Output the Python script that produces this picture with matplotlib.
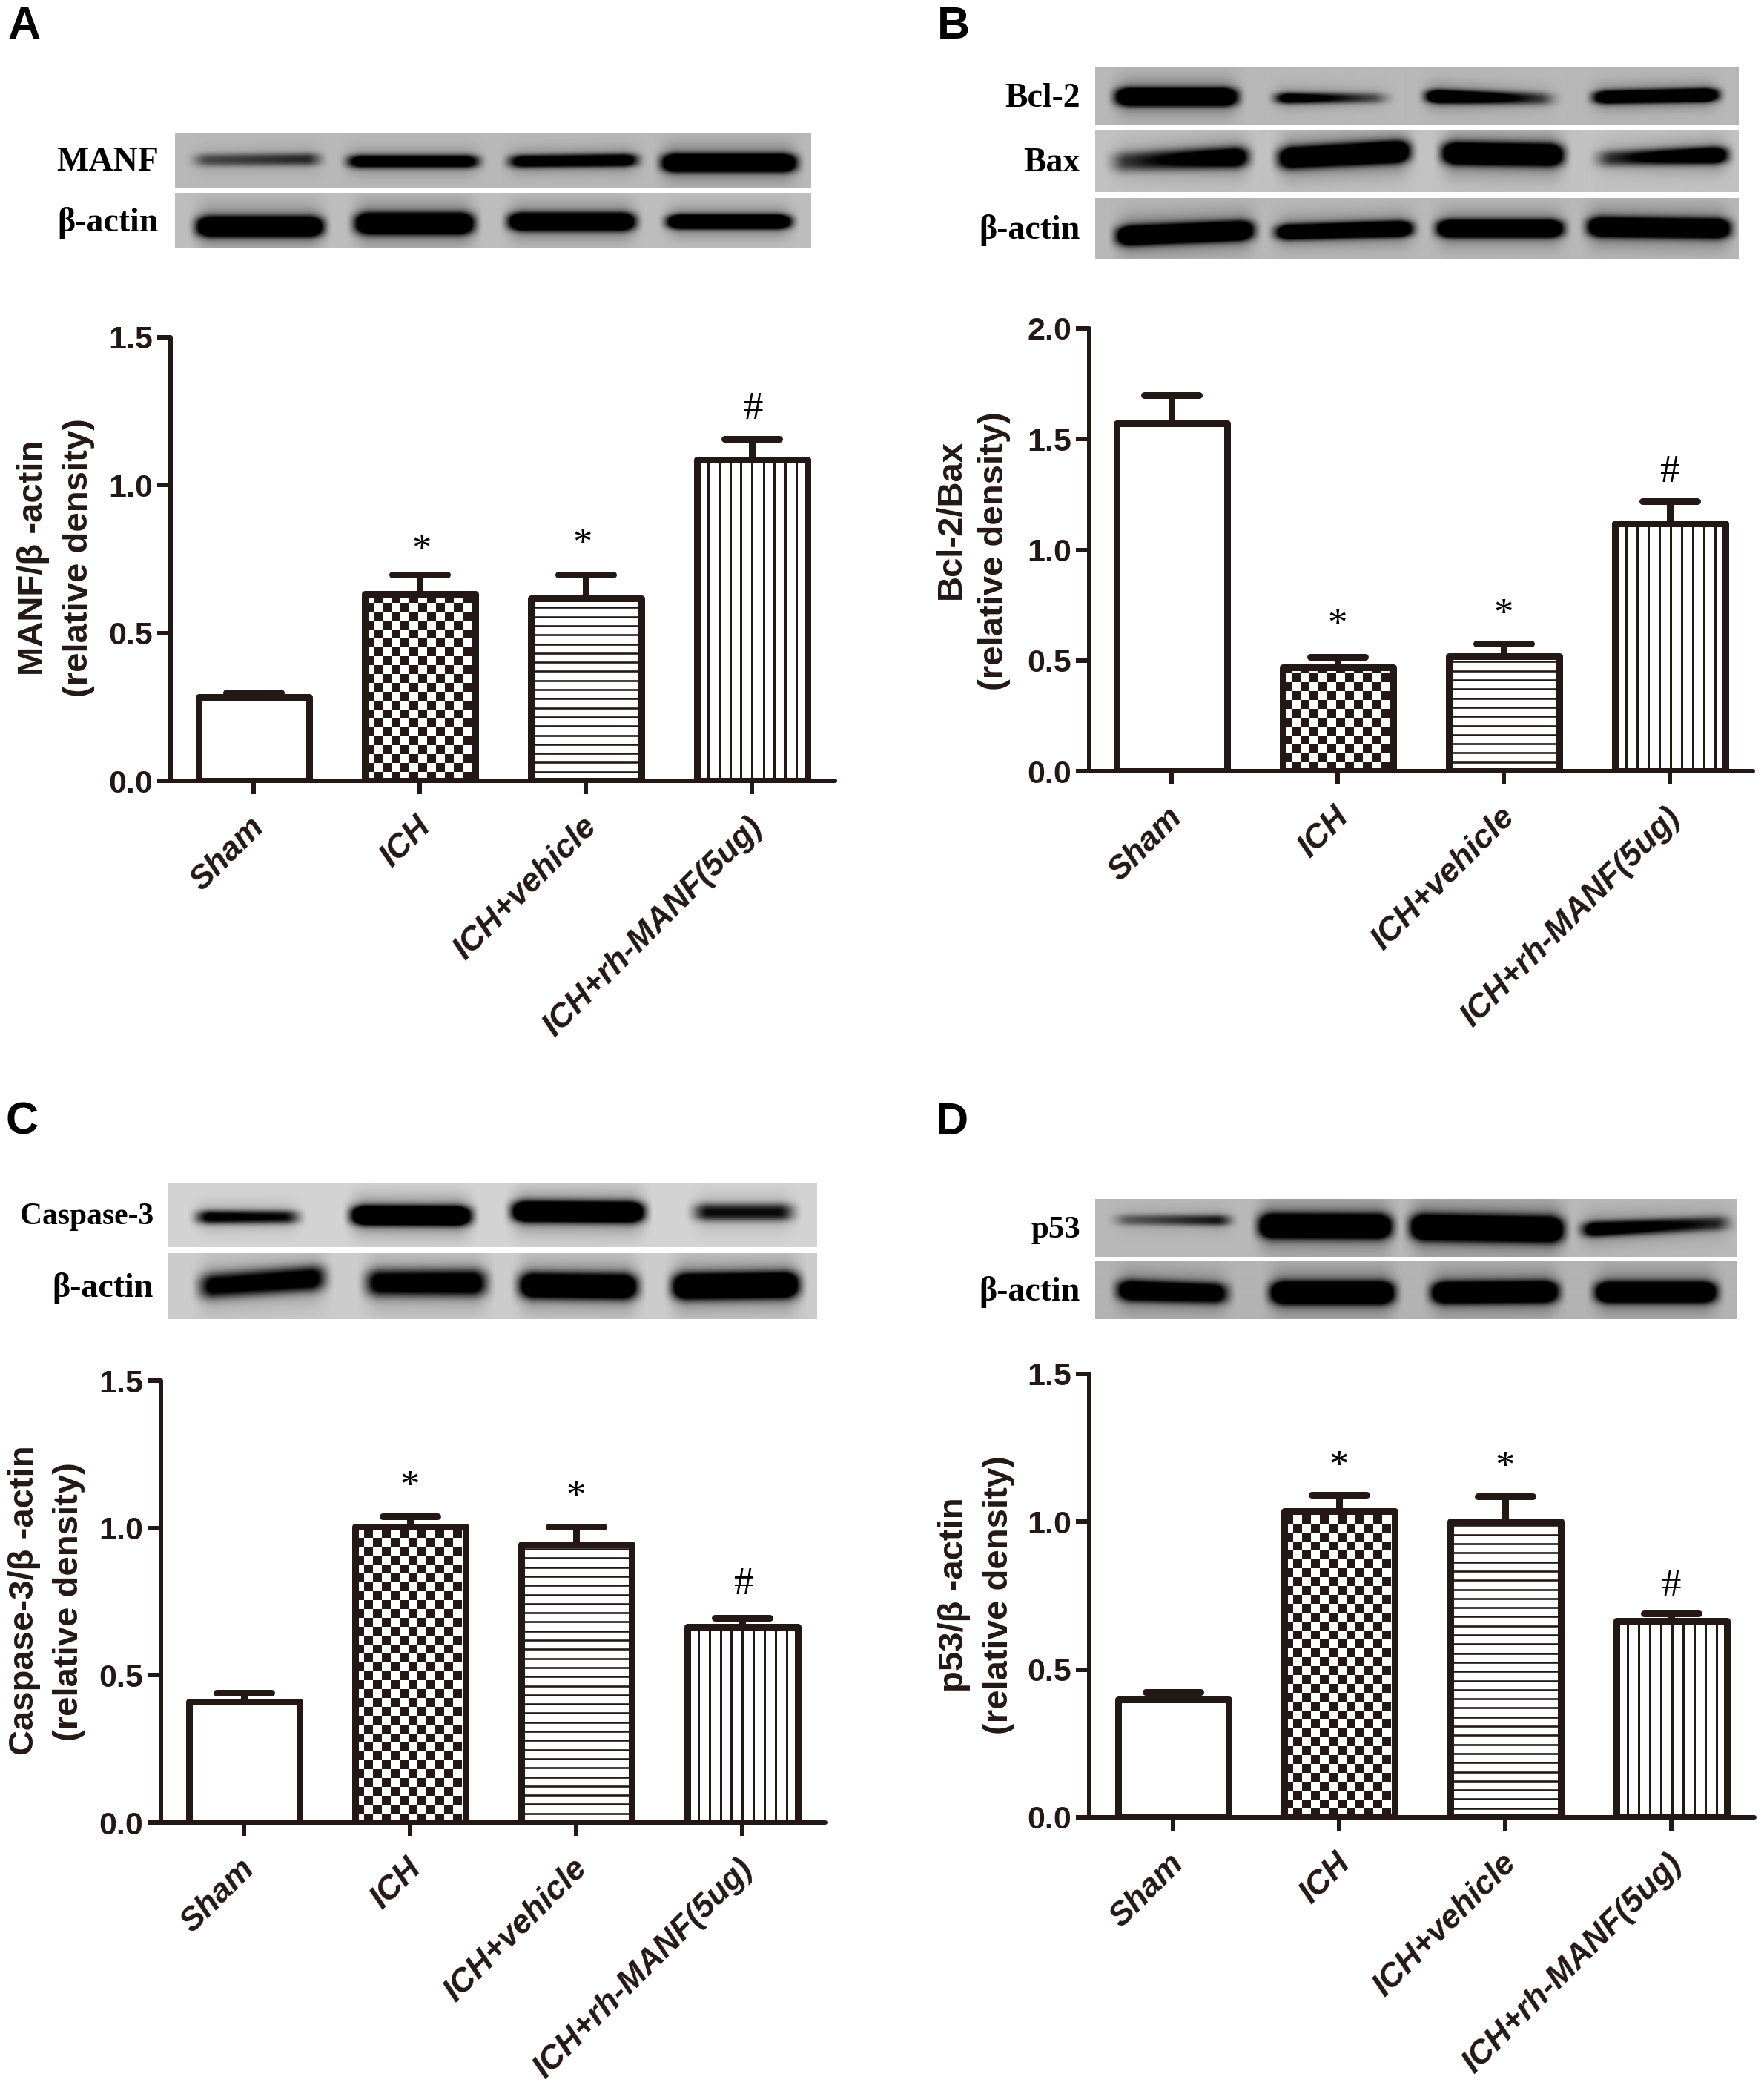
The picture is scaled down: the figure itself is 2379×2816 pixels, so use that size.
import numpy as np
import matplotlib
matplotlib.use("Agg")
import matplotlib.pyplot as plt
from matplotlib.colors import ListedColormap

W, H = 2379, 2816
INK = "#231815"
SANS = "Liberation Sans"
SERIF = "Liberation Serif"

categories = ["Sham", "ICH", "ICH+vehicle", "ICH+rh-MANF(5ug)"]

values_a = [0.283, 0.632, 0.618, 1.085]
tops_a = [0.298, 0.697, 0.697, 1.156]
values_b = [1.57, 0.47, 0.52, 1.12]
tops_b = [1.70, 0.515, 0.575, 1.22]
values_c = [0.41, 1.005, 0.945, 0.665]
tops_c = [0.44, 1.04, 1.005, 0.695]
values_d = [0.40, 1.035, 1.00, 0.665]
tops_d = [0.425, 1.09, 1.085, 0.69]

ticks_a = [0.0, 0.5, 1.0, 1.5]
ticks_b = [0.0, 0.5, 1.0, 1.5, 2.0]
ticks_c = [0.0, 0.5, 1.0, 1.5]
ticks_d = [0.0, 0.5, 1.0, 1.5]

# significance marks: position index, height
marks_a = [("*", 1.01, 0.80), ("*", 1.98, 0.82), ("#", 3.01, 1.268)]
marks_b = [("*", 1.0, 0.687), ("*", 2.0, 0.735), ("#", 3.0, 1.367)]
marks_c = [("*", 1.0, 1.161), ("*", 2.0, 1.125), ("#", 3.01, 0.82)]
marks_d = [("*", 1.0, 1.207), ("*", 2.0, 1.203), ("#", 3.0, 0.793)]

# blots: label, bg grey, row box (x0,x1,y0,y1) in px, source box, bands
blots_a = [
    ("MANF", 0.72, (236, 1094, 179, 253), (330, 1532, 80, 200), [
        (370, 600, 140, 138, 11, 0.28, 0.38), (660, 900, 143, 143, 11, 0.7, 0.7),
        (965, 1200, 143, 140, 11, 0.65, 0.72), (1255, 1500, 146, 146, 15, 1.0, 1.0)]),
    ("β-actin", 0.74, (236, 1094, 260, 335), (330, 1532, 212, 335), [
        (375, 605, 287, 287, 17, 1.0, 1.0), (675, 890, 280, 280, 18, 1.0, 1.0),
        (965, 1195, 276, 276, 15, 1.0, 1.0), (1265, 1490, 276, 276, 12, 1.0, 1.0)]),
]
blots_b = [
    ("Bcl-2", 0.72, (1477, 2344, 90, 169), (326, 1520, 90, 323), [
        (368, 585, 210, 210, 27, 1.0, 1.0), (665, 865, 215, 215, 17, 0.72, 0.22),
        (945, 1175, 208, 218, 20, 1.0, 0.25), (1255, 1478, 212, 202, 20, 0.85, 1.0)]),
    ("Bax", 0.76, (1477, 2344, 175, 259), (326, 1520, 345, 597), [
        (360, 605, 475, 455, 32, 0.3, 0.8), (670, 905, 460, 432, 34, 0.85, 1.0),
        (975, 1190, 440, 447, 34, 1.0, 1.0), (1260, 1495, 462, 447, 26, 0.3, 0.9)]),
    ("β-actin", 0.72, (1477, 2344, 267, 349), (326, 1520, 622, 866), [
        (370, 615, 775, 752, 30, 1.0, 1.0), (665, 910, 760, 745, 24, 0.85, 1.0),
        (965, 1190, 745, 745, 27, 1.0, 1.0), (1245, 1500, 738, 745, 30, 1.0, 1.0)]),
]
blots_c = [
    ("Caspase-3", 0.83, (227, 1102, 1595, 1682), (318, 1543, 105, 367), [
        (375, 560, 245, 245, 22, 0.55, 0.45), (668, 885, 238, 240, 30, 1.0, 1.0),
        (972, 1212, 222, 225, 32, 1.0, 1.0), (1315, 1495, 225, 225, 28, 0.45, 0.45)]),
    ("β-actin", 0.80, (227, 1102, 1690, 1779), (318, 1543, 390, 656), [
        (380, 610, 525, 490, 40, 0.55, 0.6), (695, 915, 510, 510, 42, 0.6, 0.65),
        (985, 1200, 520, 525, 40, 0.85, 0.85), (1275, 1505, 525, 518, 40, 0.95, 0.95)]),
]
blots_d = [
    ("p53", 0.72, (1477, 2343, 1617, 1695), (304, 1518, 111, 345), [
        (345, 555, 195, 197, 18, 0.22, 0.45), (618, 860, 220, 222, 38, 1.0, 1.0),
        (905, 1185, 225, 235, 40, 1.0, 1.0), (1230, 1500, 235, 208, 24, 0.75, 0.35)]),
    ("β-actin", 0.70, (1477, 2343, 1700, 1779), (304, 1518, 360, 597), [
        (350, 550, 482, 495, 32, 0.85, 0.7), (640, 865, 492, 492, 35, 1.0, 1.0),
        (945, 1175, 492, 488, 33, 1.0, 1.0), (1255, 1475, 490, 490, 32, 1.0, 1.0)]),
]

label_sizes = {"Caspase-3": 30, "Bcl-2": 33, "p53": 31}

panels = [
    dict(letter="A", lx=10, ly=52, left=230, y0=1053, ytop=455, cx0=342, ymax=1.5,
         vals=values_a, tops=tops_a, ticks=ticks_a, marks=marks_a, blots=blots_a, label_x=214,
         ylab=[("MANF/β -actin", 45, 752), ("(relative density)", 106, 752)]),
    dict(letter="B", lx=1264, ly=52, left=1469, y0=1040, ytop=443, cx0=1580, ymax=2.0,
         vals=values_b, tops=tops_b, ticks=ticks_b, marks=marks_b, blots=blots_b, label_x=1457,
         ylab=[("Bcl-2/Bax", 1282, 700), ("(relative density)", 1341, 743)]),
    dict(letter="C", lx=8, ly=1530, left=217, y0=2458, ytop=1862, cx0=329, ymax=1.5,
         vals=values_c, tops=tops_c, ticks=ticks_c, marks=marks_c, blots=blots_c, label_x=207,
         ylab=[("Caspase-3/β -actin", 33, 2158), ("(relative density)", 93, 2160)]),
    dict(letter="D", lx=1262, ly=1530, left=1469, y0=2451, ytop=1853, cx0=1582, ymax=1.5,
         vals=values_d, tops=tops_d, ticks=ticks_d, marks=marks_d, blots=blots_d, label_x=1457,
         ylab=[("p53/β -actin", 1287, 2151), ("(relative density)", 1347, 2151)]),
]

SPACING = 224.0
PT = 0.72  # 1 px in points at dpi 100


def px_axes(fig, l, t, r, b):
    return fig.add_axes([l / W, 1 - b / H, (r - l) / W, (b - t) / H])


def smooth(t):
    t = np.clip(t, 0, 1)
    return t * t * (3 - 2 * t)


def draw_row(fig, bg, box, src, bands):
    x0, x1, y0, y1 = box
    sx0, sx1, sy0, sy1 = src
    w, h = int(x1 - x0), int(y1 - y0)
    xs = np.linspace(sx0, sx1, w)
    ys = np.linspace(sy0, sy1, h)
    X, Y = np.meshgrid(xs, ys)
    dark = np.zeros_like(X)
    halo = np.zeros_like(X)
    edge = (sx1 - sx0) * 0.04
    for bx0, bx1, yl, yr, bh, dl, dr in bands:
        f = np.clip((X - bx0) / (bx1 - bx0), 0, 1)
        yc = yl + (yr - yl) * f
        d = dl + (dr - dl) * f
        hx = smooth((X - bx0 + edge / 2) / edge) * smooth((bx1 - X + edge / 2) / edge)
        dark += 1.7 * d * hx * np.exp(-(np.abs(Y - yc) / (1.25 * bh)) ** 2.6)
        halo += 0.42 * d * hx * np.exp(-((Y - yc) / (2.6 * bh)) ** 2)
    total = np.clip(dark + halo, 0, 1)
    img = bg * (1 - total)
    ax = px_axes(fig, x0, y0, x1, y1)
    ax.imshow(img, cmap="gray", vmin=0, vmax=1, aspect="auto", interpolation="bilinear")
    ax.axis("off")


def draw_panel(fig, p):
    left, y0, ytop, cx0 = p["left"], p["y0"], p["ytop"], p["cx0"]
    xlo = (left - cx0) / SPACING
    xhi = 3.5
    right = cx0 + SPACING * xhi
    ax = px_axes(fig, left, ytop, right, y0)
    ax.patch.set_alpha(0)
    ax.set_xlim(xlo, xhi)
    ax.set_ylim(0, p["ymax"])
    ppy = (y0 - ytop) / p["ymax"]
    xs = np.arange(4)
    width = 149 / SPACING
    vals = p["vals"]

    ax.bar(xs, vals, width, color="white", zorder=2)

    # checkered fill, bar 2
    xe = np.arange(xs[1] - width / 2, xs[1] + width / 2 + 1e-6, 12 / SPACING)
    ye = np.arange(0, vals[1] + 12 / ppy, 12 / ppy)
    ye = np.minimum(ye, vals[1])
    ii, jj = np.meshgrid(np.arange(len(xe) - 1), np.arange(len(ye) - 1))
    ax.pcolormesh(xe, ye, (ii + jj) % 2, cmap=ListedColormap(["white", INK]),
                  antialiased=False, zorder=2.2, rasterized=False)

    # horizontal lines, bar 3
    ax.hlines(np.arange(12.3, vals[2] * ppy, 12.3) / ppy, xs[2] - width / 2, xs[2] + width / 2,
              color=INK, lw=2.6 * PT, zorder=2.2)
    # vertical lines, bar 4
    ax.vlines(np.arange(xs[3] - width / 2 + 15 / SPACING, xs[3] + width / 2, 15 / SPACING), 0, vals[3],
              color=INK, lw=3 * PT, zorder=2.2)

    ax.bar(xs, vals, width, fill=False, edgecolor=INK, linewidth=9 * PT, zorder=3, joinstyle="round")

    ax.vlines(xs, vals, p["tops"], color=INK, lw=9 * PT, zorder=2.6)
    ax.hlines(p["tops"], xs - 37 / SPACING, xs + 37 / SPACING, color=INK, lw=9 * PT,
              capstyle="round", zorder=2.6)

    for s in ("top", "right"):
        ax.spines[s].set_visible(False)
    for s in ("left", "bottom"):
        ax.spines[s].set_linewidth(6 * PT)
        ax.spines[s].set_color(INK)
        ax.spines[s].set_capstyle("round")
        ax.spines[s].set_zorder(4)
    ax.set_xticks(xs)
    ax.set_xticklabels([])
    ax.set_yticks(p["ticks"])
    ax.set_yticklabels([f"{t:.1f}" for t in p["ticks"]], fontfamily=SANS, fontweight="bold",
                       fontsize=31, color=INK)
    ax.tick_params(axis="both", length=18 * PT, width=6 * PT, color=INK)
    ax.tick_params(axis="y", pad=4)

    for i, cat in enumerate(categories):
        ax.annotate(cat, xy=(i, 0), xycoords="data", xytext=(8, -56), textcoords="offset pixels",
                    rotation=45, rotation_mode="anchor", ha="right", va="center",
                    fontfamily=SANS, fontweight="bold", fontstyle="italic", fontsize=32, color=INK)

    for sym, x, y in p["marks"]:
        drop = -9 if sym == "*" else -5
        ax.annotate(sym, xy=(x, y), xytext=(0, drop), textcoords="offset pixels", ha="center",
                    va="center", fontfamily=SERIF, fontsize=38, color="black", zorder=5)

    for txt, x, y in p["ylab"]:
        fig.text(x / W, 1 - y / H, txt, rotation=90, ha="center", va="center", fontfamily=SANS,
                 fontweight="bold", fontsize=34, color=INK)

    fig.text(p["lx"] / W, 1 - p["ly"] / H, p["letter"], ha="left", va="baseline", fontfamily=SANS,
             fontweight="bold", fontsize=44, color="black")

    for label, bg, box, src, bands in p["blots"]:
        draw_row(fig, bg, box, src, bands)
        fig.text(p["label_x"] / W, 1 - ((box[2] + box[3]) / 2 + 3) / H, label, ha="right", va="center",
                 fontfamily=SERIF, fontweight="bold", fontsize=label_sizes.get(label, 33), color="black")


fig = plt.figure(figsize=(W / 100, H / 100), dpi=100, facecolor="white")
for panel in panels:
    draw_panel(fig, panel)
fig.savefig("out.png", dpi=100, facecolor="white")
